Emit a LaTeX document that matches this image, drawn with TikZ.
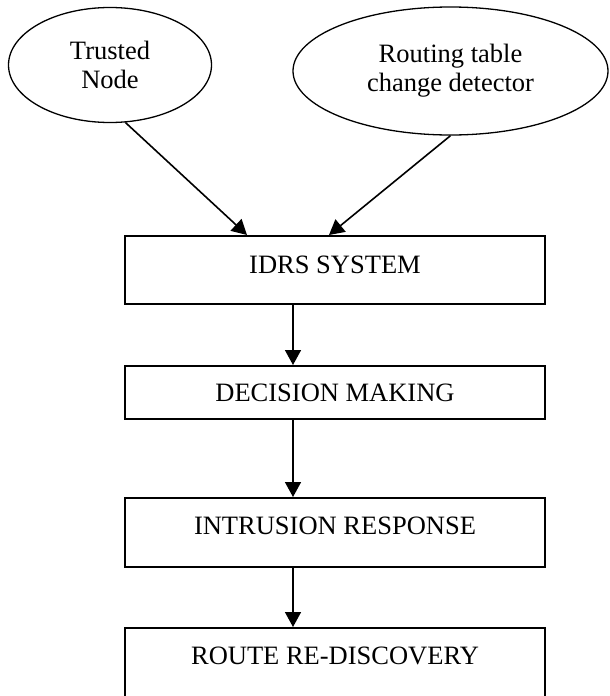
\documentclass[tikz,border=0pt]{standalone}
\usepackage{fontspec}
\setmainfont{Liberation Serif}
\usetikzlibrary{shapes.geometric,arrows.meta}
\begin{document}
\begin{tikzpicture}[x=1pt,y=1pt,
  every node/.style={font=\fontsize{26.5}{29}\selectfont},
  oval/.style={ellipse, draw, line width=1.3pt, inner sep=0pt, align=center},
  stage/.style={draw, line width=2pt, minimum width=420pt, inner xsep=0pt,
                inner ysep=0pt, anchor=north},
  arr/.style={line width=1.6pt, -{Triangle[length=15pt,width=16pt]}}]
\useasboundingbox (0,0) rectangle (610,-696);

% input sources
\node[oval, minimum width=203pt, minimum height=115pt] (trusted) at (110,-65) {Trusted\\Node};
\node[oval, minimum width=315pt, minimum height=128pt] (rtcd) at (450.5,-71) {Routing table\\change detector};

% processing stages
\node[stage, text height=37pt, text depth=31pt] (idrs) at (335,-235) {IDRS SYSTEM};
\node[stage, text height=35pt, text depth=18pt] (dec) at (335,-365) {DECISION MAKING};
\node[stage, text height=36pt, text depth=33pt] (resp) at (335,-497) {INTRUSION RESPONSE};
\node[stage, text height=36pt, text depth=48pt] (route) at (335,-627) {ROUTE RE-DISCOVERY};

% connectors
\draw[arr] (trusted.-75) -- ([xshift=-88pt]idrs.north);
\draw[arr] (rtcd.south) -- ([xshift=-6pt]idrs.north);
\draw[arr] ([xshift=-42pt]idrs.south) -- ([xshift=-42pt]dec.north);
\draw[arr] ([xshift=-42pt]dec.south) -- ([xshift=-42pt]resp.north);
\draw[arr] ([xshift=-42pt]resp.south) -- ([xshift=-42pt]route.north);
\end{tikzpicture}
\end{document}
